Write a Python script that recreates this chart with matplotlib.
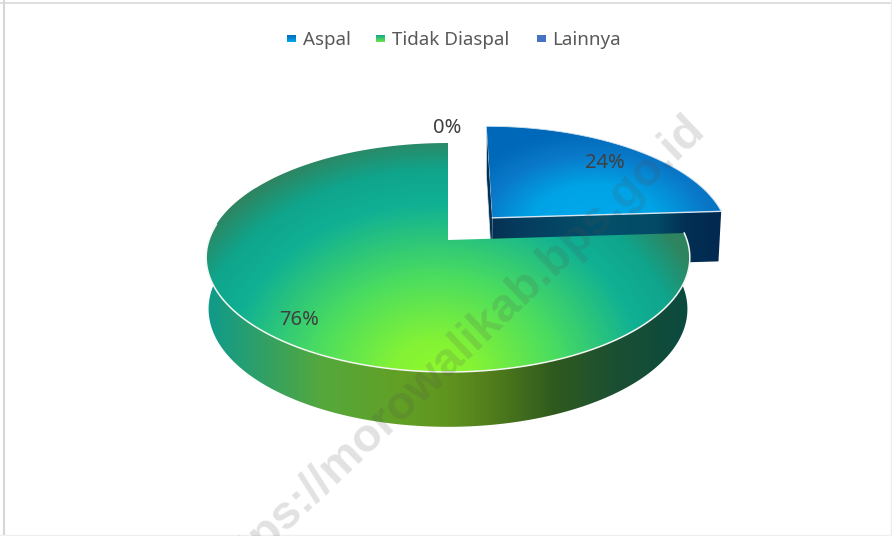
import numpy as np
import matplotlib
matplotlib.use("Agg")
import matplotlib.pyplot as plt
from matplotlib.colors import LinearSegmentedColormap as LSC, to_rgb
from matplotlib.patches import Polygon

categories = ["Aspal", "Tidak Diaspal", "Lainnya"]
values = [24, 76, 0]
labels = ["24%", "76%", "0%"]
watermark = "https://morowalikab.bps.go.id"

plt.rcParams["font.family"] = ["Noto Sans", "DejaVu Sans"]
W, H = 892, 536
fig = plt.figure(figsize=(W / 100, H / 100), dpi=100, facecolor="white")
ax = fig.add_axes([0, 0, 1, 1])
ax.set_axis_off()

# perspective of the pie plane
CX, CY = 448.0, 240.0
D, A, C = 239.0, -75.15, 0.1528
DEPTH, DEPTH_C, SHRINK = 51.0, 0.07, 0.99
EXPLODE = 0.28


def project(u, v, level=0.0):
    w = 1 + C * v
    k = 1 - (1 - SHRINK) * level
    return CX + D * u * k / w, (A * v + CY) / w + DEPTH * level / (1 + DEPTH_C * v)


def rim(t0, t1, ou=0.0, ov=0.0, level=0.0, n=200):
    t = np.radians(np.linspace(t0, t1, n))
    x, y = project(ou + np.sin(t), ov + np.cos(t), level)
    return np.column_stack([x, y])


def ramp(stops):
    return LSC.from_list("g", [(p, to_rgb(c)) for p, c in stops])


YY, XX = np.mgrid[0:H, 0:W] + 0.5


def paint(path, field, stops, z):
    patch = Polygon(path, closed=True, transform=ax.transData, fc="none", ec="none")
    ax.add_patch(patch)
    im = ax.imshow(ramp(stops)(np.clip(field, 0, 1)), extent=(0, W, H, 0),
                   interpolation="bilinear", zorder=z, aspect="auto")
    im.set_clip_path(patch)


total = sum(values)
a_end = 360 * values[0] / total
b_end = a_end + 360 * values[1] / total
mid = np.radians(a_end / 2)
ou, ov = EXPLODE * np.sin(mid), EXPLODE * np.cos(mid)

# ---- exploded first slice
apex_t = np.array(project(ou, ov, 0.0))
apex_b = np.array(project(ou, ov, 1.0))
back_t = rim(0, 0, ou, ov, 0, 1)[0]
back_b = rim(0, 0, ou, ov, 1, 1)[0]
end_t = rim(a_end, a_end, ou, ov, 0, 1)[0]
end_b = rim(a_end, a_end, ou, ov, 1, 1)[0]

ax.add_patch(Polygon([back_t, apex_t, apex_b, back_b], closed=True, fc="#06304f", ec="#dfeaf2", lw=0.5, zorder=2))
paint([apex_t, end_t, end_b, apex_b], (XX - 490) / 232,
      [(0, "#052f52"), (0.1, "#063a5c"), (0.45, "#03506a"), (0.72, "#034a66"), (0.85, "#022f55"), (1, "#02294f")], 3)
top_a = np.vstack([[apex_t], rim(0, a_end, ou, ov, 0)])
paint(top_a, np.hypot((XX - 595) / 150, (YY - 225) / 95),
      [(0, "#00a9ec"), (0.42, "#00a4e6"), (0.75, "#0a78c8"), (1, "#0068b8")], 4)
ax.plot(*np.vstack([[apex_t], [end_t]]).T, color="#d5e6f2", lw=1.0, zorder=5)
ax.plot(*rim(0, a_end, ou, ov, 0).T, color="#cfe4f2", lw=0.6, zorder=5)

# ---- main slice
wall = np.vstack([rim(a_end, 300, 0, 0, 0), rim(a_end, 300, 0, 0, 1)[::-1]])
paint(wall, (XX - 206) / 484,
      [(0, "#0f9a8c"), (0.11, "#2fa068"), (0.24, "#55a83c"), (0.4, "#62a025"), (0.5, "#5f941f"),
       (0.58, "#54801c"), (0.72, "#2f5a1e"), (0.85, "#1b4f33"), (1, "#0a4a40")], 6)
top_b = np.vstack([[project(0, 0, 0)], rim(a_end, b_end, 0, 0, 0)])
paint(top_b, np.hypot((XX - 435) / 290, (YY - 375) / 238),
      [(0, "#8ef92e"), (0.14, "#84f335"), (0.42, "#4adc60"), (0.72, "#10b094"), (0.86, "#0fa58c"), (1, "#2f8460")], 7)
ax.plot(*rim(a_end, 278, 0, 0, 0).T, color="#f4f7f2", lw=1.1, zorder=8)

# ---- texts
label_pos = [(605, 163), (299, 320), (447, 128)]
for s, (x, y) in zip(labels, label_pos):
    ax.text(x, y, s, fontsize=14.5, color="#404040", ha="center", va="center", zorder=12)

swatch_x = [287, 376, 537]
text_x = [303, 392, 552]
swatch_stops = [
    [(0, "#0068b8"), (1, "#00a8ec")],
    [(0, "#0fa58c"), (1, "#6be84a")],
    [(0, "#4472c4"), (1, "#4472c4")],
]
for name, sx, tx, st in zip(categories, swatch_x, text_x, swatch_stops):
    paint([(sx, 35), (sx + 9, 35), (sx + 9, 42), (sx, 42)], (YY - 35) / 7, st, 12)
    ax.text(tx, 40, name, fontsize=13.5, color="#595959", ha="left", va="center", zorder=12)

ax.text(698, 122, watermark, rotation=43.5, rotation_mode="anchor", ha="right", va="center",
        fontsize=34, fontweight="bold", family="Liberation Sans", color="#505050", alpha=0.17, zorder=20)

ax.plot([4, 4], [0, H], color="#d6d6d6", lw=1.5, zorder=1)
ax.plot([0, W], [2.5, 2.5], color="#d8d8d8", lw=1.2, zorder=1)
ax.plot([891, 891], [0, H], color="#ececec", lw=1.0, zorder=1)
ax.plot([0, W], [535, 535], color="#efefef", lw=1.0, zorder=1)
ax.set_xlim(0, W)
ax.set_ylim(H, 0)
fig.savefig("out.png", dpi=100, facecolor="white")
